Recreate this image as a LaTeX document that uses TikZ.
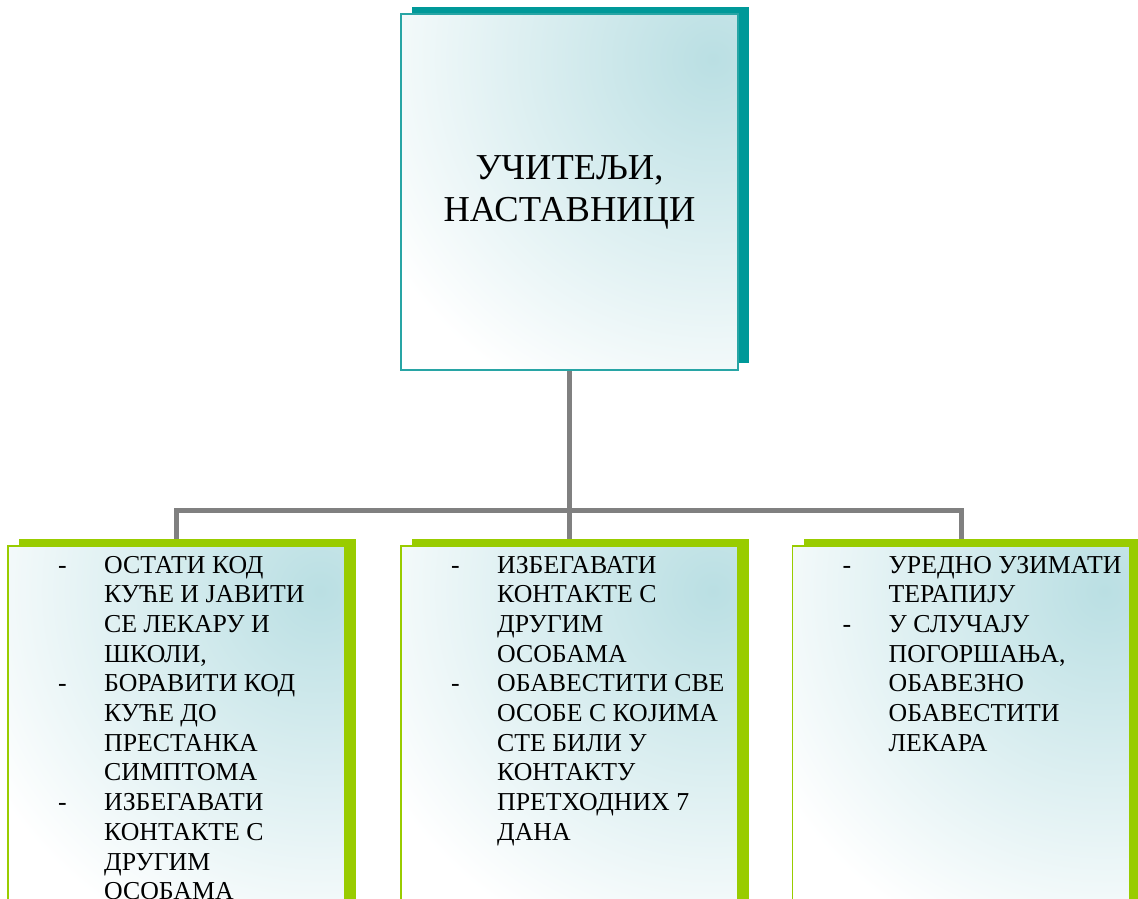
\documentclass[tikz,border=0pt]{standalone}
\usepackage{fontspec}
\setmainfont{Liberation Serif}
\usetikzlibrary{shadows}
\definecolor{tealsh}{RGB}{0,153,153}
\definecolor{tealbd}{RGB}{40,165,165}
\definecolor{greensh}{RGB}{153,204,0}
\definecolor{lt}{RGB}{186,223,227}
\definecolor{conngray}{RGB}{128,128,128}
\pgfdeclarelayer{bg}
\pgfsetlayers{bg,main}
\begin{document}
\begin{tikzpicture}[x=1pt,y=-1pt,
  box/.style={line width=1.5pt, minimum width=337pt, outer sep=0pt, inner sep=0pt, fill=white,
    path picture={\shade[inner color=lt, outer color=white]
      ([xshift=-25pt,yshift=-45pt]path picture bounding box.north east) circle (380);}},
  topbox/.style={box, draw=tealbd, minimum height=356pt,
    drop shadow={fill=tealsh, opacity=1, shadow xshift=11pt, shadow yshift=7.5pt},
    font=\fontsize{36.5}{42}\selectfont},
  subbox/.style={box, draw=greensh, minimum height=400pt,
    drop shadow={fill=greensh, opacity=1, shadow xshift=11pt, shadow yshift=7pt}},
  itemtext/.style={anchor=base west, inner sep=0pt,
    font=\fontsize{25.8}{29.7}\selectfont},
  conn/.style={draw=conngray, line width=5pt}]
\useasboundingbox (0,0) rectangle (1138,898);
\clip (0,0) rectangle (1138,898);

\node[topbox] (top) at (569.5,192)
  {\raisebox{5pt}{\begin{tabular}{@{}c@{}}УЧИТЕЉИ,\\НАСТАВНИЦИ\end{tabular}}};

\node[subbox] (b1) at (176.5,746) {};
\node[subbox] (b2) at (569.5,746) {};
\node[subbox] (b3) at (961,746) {};

\newcommand{\dsh}{\makebox[46pt][l]{-}}
\newcommand{\ind}{\hspace*{46pt}}

\node[itemtext] (t1) at ([xshift=50pt,yshift=-27pt]b1.north west)
  {\begin{tabular}[t]{@{}l@{}}
   \dsh ОСТАТИ КОД\\ \ind КУЋЕ И ЈАВИТИ\\ \ind СЕ ЛЕКАРУ И\\ \ind ШКОЛИ,\\
   \dsh БОРАВИТИ КОД\\ \ind КУЋЕ ДО\\ \ind ПРЕСТАНКА\\ \ind СИМПТОМА\\
   \dsh ИЗБЕГАВАТИ\\ \ind КОНТАКТЕ С\\ \ind ДРУГИМ\\ \ind ОСОБАМА
   \end{tabular}};
\node[itemtext] (t2) at ([xshift=50pt,yshift=-27pt]b2.north west)
  {\begin{tabular}[t]{@{}l@{}}
   \dsh ИЗБЕГАВАТИ\\ \ind КОНТАКТЕ С\\ \ind ДРУГИМ\\ \ind ОСОБАМА\\
   \dsh ОБАВЕСТИТИ СВЕ\\ \ind ОСОБЕ С КОЈИМА\\ \ind СТЕ БИЛИ У\\ \ind КОНТАКТУ\\ \ind ПРЕТХОДНИХ 7\\ \ind ДАНА
   \end{tabular}};
\node[itemtext] (t3) at ([xshift=50pt,yshift=-27pt]b3.north west)
  {\begin{tabular}[t]{@{}l@{}}
   \dsh УРЕДНО УЗИМАТИ\\ \ind ТЕРАПИЈУ\\
   \dsh У СЛУЧАЈУ\\ \ind ПОГОРШАЊА,\\ \ind ОБАВЕЗНО\\ \ind ОБАВЕСТИТИ\\ \ind ЛЕКАРА
   \end{tabular}};

\coordinate (j) at (569.5,510);
\begin{pgfonlayer}{bg}
\draw[conn] (top.south) -- (j);
\draw[conn] (j) -| (b1.north);
\draw[conn] (j) -| (b3.north);
\draw[conn] (j) -- (b2.north);
\end{pgfonlayer}
\end{tikzpicture}
\end{document}
